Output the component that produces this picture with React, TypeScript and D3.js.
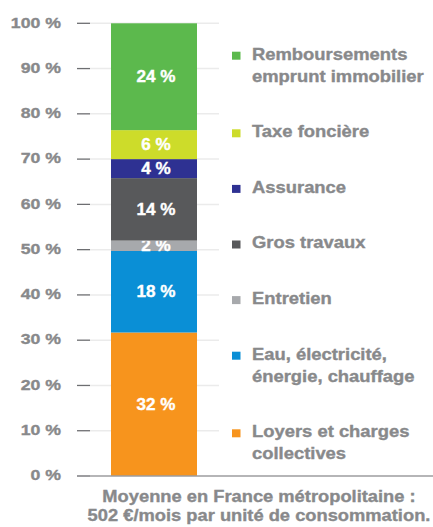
import React from 'react'
import * as d3 from 'd3'

// categories from bottom to top of the stack
const categories = [
  'Loyers et charges collectives',
  'Eau, électricité, énergie, chauffage',
  'Entretien',
  'Gros travaux',
  'Assurance',
  'Taxe foncière',
  'Remboursements emprunt immobilier',
]
// legend text split in lines
const legendLines = [
  ['Loyers et charges', 'collectives'],
  ['Eau, électricité,', 'énergie, chauffage'],
  ['Entretien'],
  ['Gros travaux'],
  ['Assurance'],
  ['Taxe foncière'],
  ['Remboursements', 'emprunt immobilier'],
]
const values = [31.7, 18.0, 2.3, 13.8, 4.2, 6.4, 23.6]
const valueLabels = ['32 %', '18 %', '2 %', '14 %', '4 %', '6 %', '24 %']
const colors = ['#f7941d', '#0a8fd6', '#a7a9ac', '#58595b', '#2e3192', '#cddc2a', '#5cb94d']
const yTicks = [0, 10, 20, 30, 40, 50, 60, 70, 80, 90, 100]
const barName = 'Moyenne'
const caption = ['Moyenne en France métropolitaine :', '502 €/mois par unité de consommation.']

const W = 433
const H = 527
const textGray = '#88898b'
const font = '"Liberation Sans", Arial, sans-serif'

// bold text, stretched a bit wider like the original
const Txt = ({ x, y, sx, size, anchor, fill, children }: any) => (
  <g transform={`translate(${x},${y}) scale(${sx},1)`}>
    <text
      textAnchor={anchor}
      fontSize={size}
      fontWeight="bold"
      fill={fill}
      stroke={fill}
      strokeWidth={0.35}
    >
      {children}
    </text>
  </g>
)

const App = () => {
  const y = d3.scaleLinear().domain([0, 100]).range([476, 23.3])
  const x = d3.scaleBand().domain([barName]).range([111, 197])

  // stack the single column
  const row: any = {}
  categories.forEach((c, i) => (row[c] = values[i]))
  const stacked = d3.stack().keys(categories)([row])

  // legend positions, top item first
  const legendOrder = d3.range(categories.length).reverse()
  let ly = 55.7
  const legendY: number[] = []
  legendOrder.forEach((i) => {
    legendY[i] = ly
    ly += 55.6 + (legendLines[i].length - 1) * 22
  })

  return (
    <svg width={W} height={H} style={{ position: 'absolute', left: 0, top: 0, fontFamily: font }}>
      <rect width={W} height={H} fill="white" />
      {/* grid + ticks */}
      {yTicks.map((t) => (
        <g key={t}>
          {t > 0 && <line x1={90} x2={219} y1={y(t)} y2={y(t)} stroke="#ebebeb" strokeWidth={1.5} />}
          <line x1={77} x2={90} y1={y(t)} y2={y(t)} stroke="#6d6e71" strokeWidth={1.3} />
          <Txt x={61} y={y(t) + 4.3} sx={1.18} size={15} anchor="end" fill={textGray}>
            {t} %
          </Txt>
        </g>
      ))}
      {/* bar segments */}
      {stacked.map((s, i) => {
        const d = s[0]
        const y0 = y(d[0])
        const y1 = y(d[1])
        return (
          <g key={categories[i]}>
            <rect x={x(barName)} width={x.bandwidth()} y={y1} height={y0 - y1} fill={colors[i]} />
            <Txt
              x={x(barName)! + x.bandwidth() / 2 + 2}
              y={(y0 + y1) / 2 + 5.6}
              sx={1.07}
              size={16}
              anchor="middle"
              fill="white"
            >
              {valueLabels[i]}
            </Txt>
          </g>
        )
      })}
      {/* baseline */}
      <line x1={77} x2={W} y1={y(0)} y2={y(0)} stroke="#9d9d9f" strokeWidth={1.3} />
      {/* legend */}
      {categories.map((c, i) => (
        <g key={c}>
          <rect x={232} y={legendY[i] - 4} width={8.5} height={8} fill={colors[i]} />
          {legendLines[i].map((l, j) => (
            <Txt key={j} x={252} y={legendY[i] + 3.8 + j * 22} sx={1.15} size={16} anchor="start" fill={textGray}>
              {l}
            </Txt>
          ))}
        </g>
      ))}
      {/* caption */}
      {caption.map((l, j) => (
        <Txt key={j} x={259} y={502.3 + j * 18.4} sx={1.11} size={16.5} anchor="middle" fill={textGray}>
          {l}
        </Txt>
      ))}
    </svg>
  )
}

export default App
